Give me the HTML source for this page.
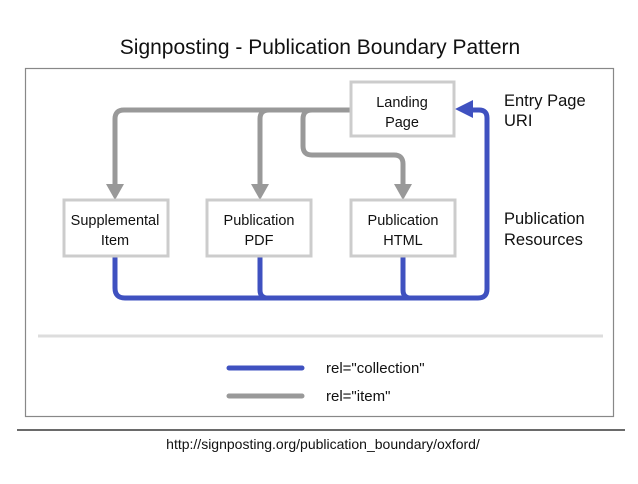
<!DOCTYPE html>
<html><head><style>
body{margin:0;background:#fff;}
svg text{font-family:"Liberation Sans",Arial,sans-serif;}
</style></head><body>
<svg width="638" height="479" xmlns="http://www.w3.org/2000/svg">
<rect width="638" height="479" fill="#fff"/>
<text x="320" y="54" font-size="21" text-anchor="middle" fill="#111">Signposting - Publication Boundary Pattern</text>
<rect x="25.5" y="68.5" width="588" height="348" fill="#fff" stroke="#888" stroke-width="1.2"/>
<g fill="none" stroke="#999" stroke-width="5" stroke-linejoin="round">
<path d="M352 110 H124 Q115 110 115 119 V186"/>
<path d="M269 110 Q260 110 260 119 V186"/>
<path d="M312 110 Q303 110 303 119 V146 Q303 155 312 155 H394 Q403 155 403 164 V186"/>
</g>
<g fill="#999">
<polygon points="106,184 124,184 115,200"/>
<polygon points="251,184 269,184 260,200"/>
<polygon points="394,184 412,184 403,200"/>
</g>
<g fill="none" stroke="#3f51c0" stroke-width="5" stroke-linejoin="round">
<path d="M115 256 V288 Q115 298 125 298 H478 Q487 298 487 289 V118 Q487 110 479 110 H468"/>
<path d="M260 256 V290 Q260 298 268 298"/>
<path d="M403 256 V290 Q403 298 411 298"/>
</g>
<polygon points="455,109 473,100 473,118" fill="#3f51c0"/>
<g fill="#fff" stroke="#ccc" stroke-width="3">
<rect x="351" y="82" width="103" height="54"/>
<rect x="64" y="200" width="104" height="56"/>
<rect x="207" y="200" width="104" height="56"/>
<rect x="351" y="200" width="104" height="56"/>
</g>
<g font-size="14.5" text-anchor="middle" fill="#111">
<text x="402" y="107">Landing</text><text x="402" y="127">Page</text>
<text x="115" y="225">Supplemental</text><text x="115" y="245">Item</text>
<text x="259" y="225">Publication</text><text x="259" y="245">PDF</text>
<text x="403" y="225">Publication</text><text x="403" y="245">HTML</text>
</g>
<g font-size="16.5" fill="#111">
<text x="504" y="106">Entry Page</text><text x="504" y="126">URI</text>
<text x="504" y="224">Publication</text><text x="504" y="245">Resources</text>
</g>
<line x1="38" y1="336" x2="603" y2="336" stroke="#ddd" stroke-width="3"/>
<line x1="229" y1="368" x2="302" y2="368" stroke="#3f51c0" stroke-width="5" stroke-linecap="round"/>
<line x1="229" y1="396" x2="302" y2="396" stroke="#999" stroke-width="5" stroke-linecap="round"/>
<g font-size="15" fill="#111">
<text x="326" y="373">rel="collection"</text>
<text x="326" y="401">rel="item"</text>
</g>
<line x1="17" y1="430" x2="625" y2="430" stroke="#111" stroke-width="1.3"/>
<text x="323" y="449" font-size="14" text-anchor="middle" fill="#111">http://signposting.org/publication_boundary/oxford/</text>
</svg>
</body></html>
